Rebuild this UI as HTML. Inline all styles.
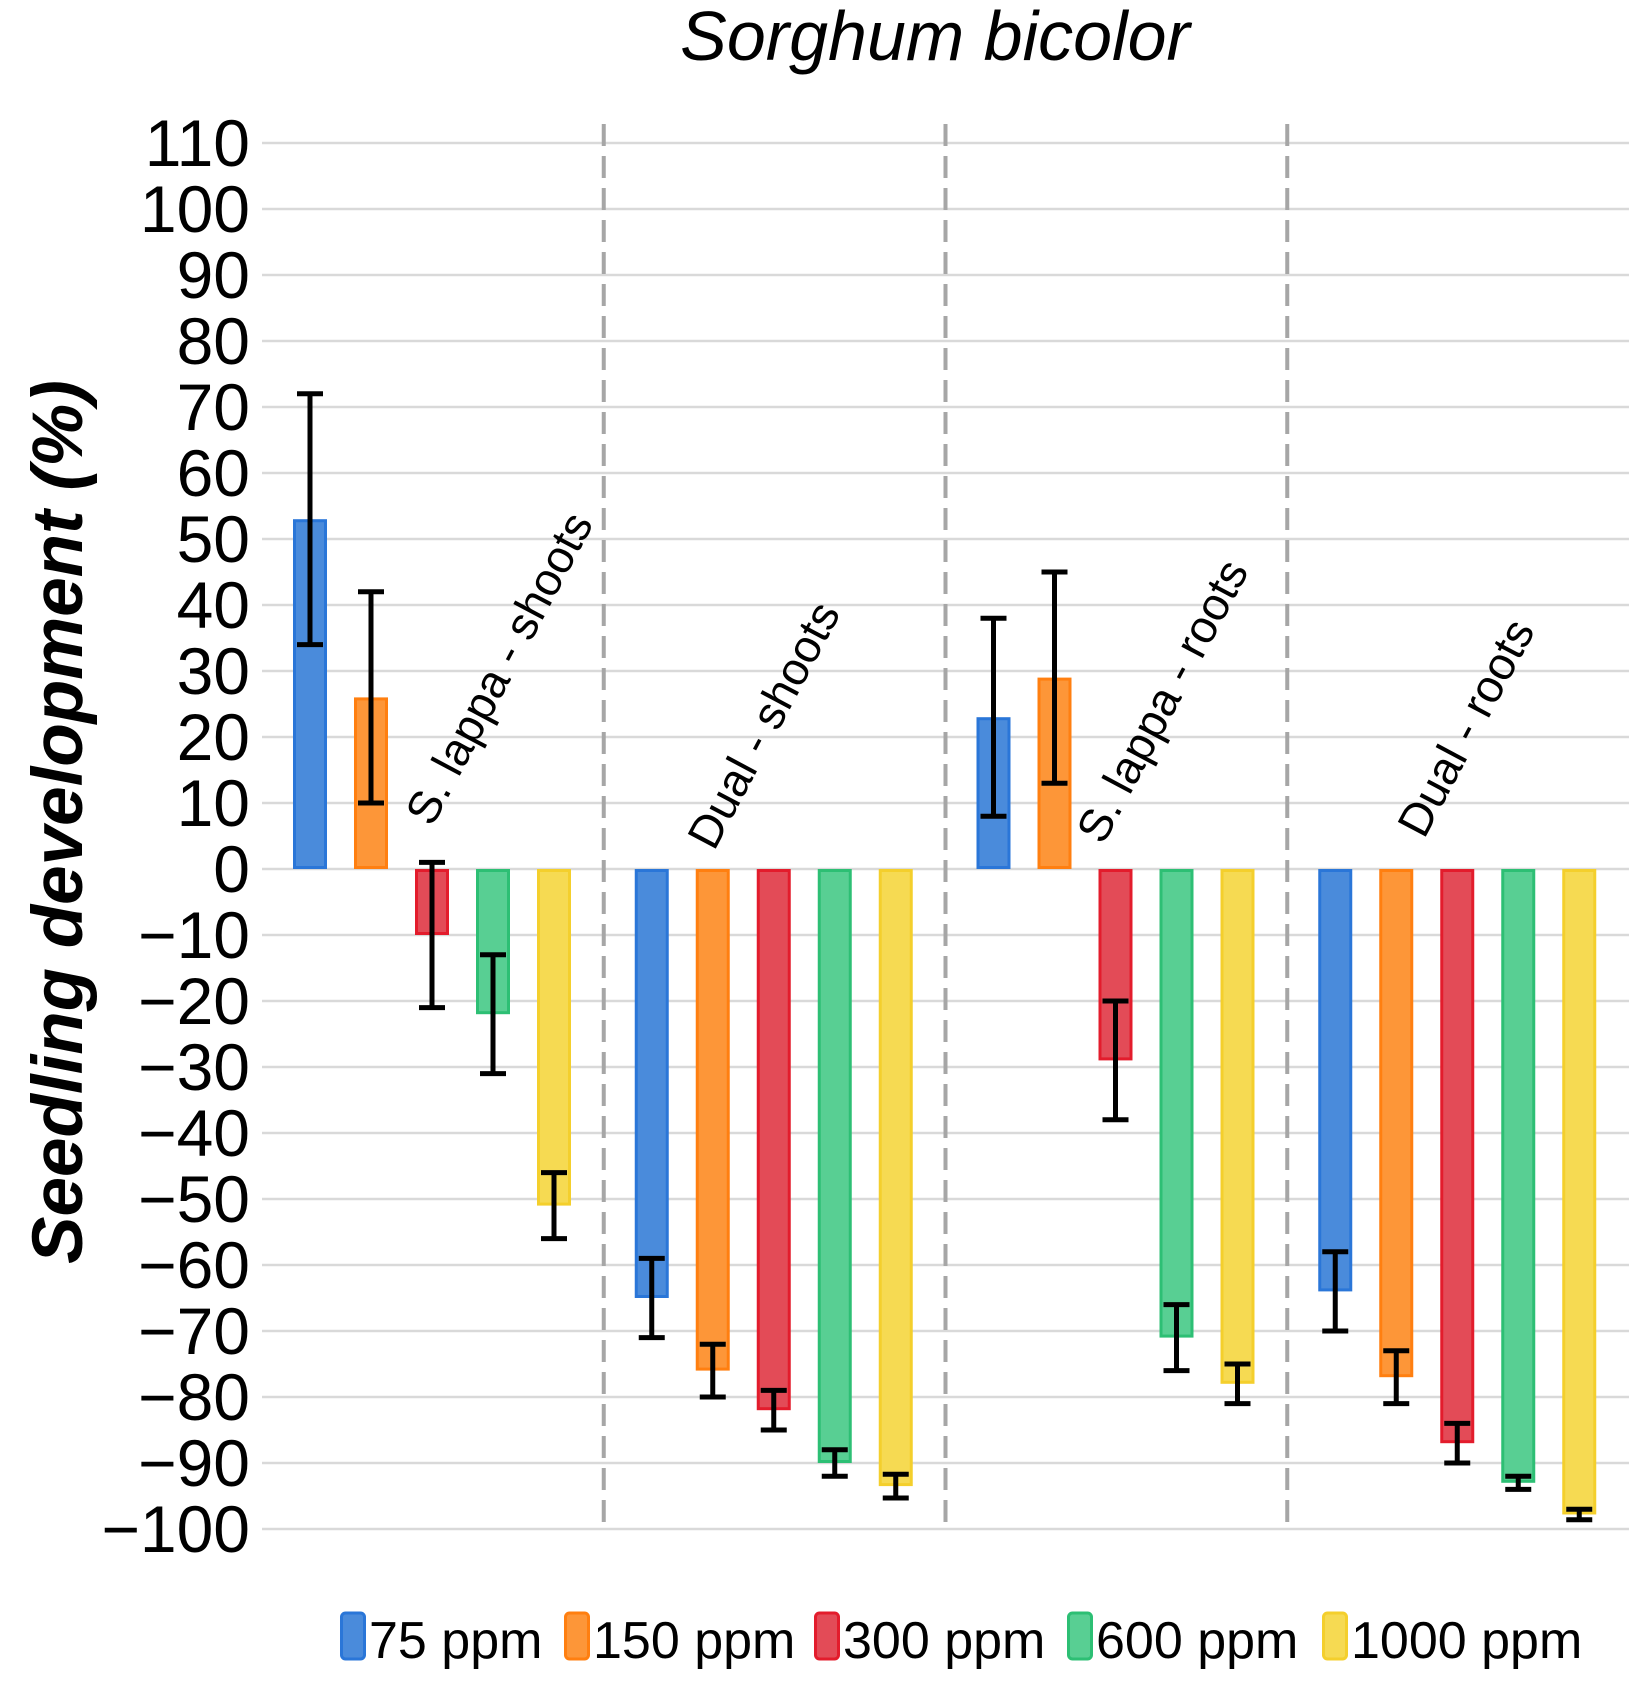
<!DOCTYPE html>
<html><head><meta charset="utf-8"><style>
html,body{margin:0;padding:0;background:#fff;}
svg{display:block;font-family:"Liberation Sans",Arial,sans-serif;}
</style></head><body>
<svg id="chart" width="1645" height="1686" viewBox="0 0 1645 1686">
<text x="935" y="60" font-size="70" font-style="italic" text-anchor="middle">Sorghum bicolor</text>
<text transform="translate(82,822) rotate(-90)" font-size="71" font-weight="bold" font-style="italic" text-anchor="middle">Seedling development (%)</text>
<g id="grid"></g><g id="yticks"></g><g id="dividers"></g><g id="bars"></g><g id="errs"></g><g id="glabels"></g><g id="legend"></g>
</svg>
<script>
const groups = ["S. lappa - shoots","Dual - shoots","S. lappa - roots","Dual - roots"];
const seriesNames = ["75 ppm","150 ppm","300 ppm","600 ppm","1000 ppm"];
const ppm75   = [53, -65, 23, -64];
const ppm150  = [26, -76, 29, -77];
const ppm300  = [-10, -82, -29, -87];
const ppm600  = [-22, -90, -71, -93];
const ppm1000 = [-51, -93.5, -78, -97.8];
const err75   = [19, 6, 15, 6];
const err150  = [16, 4, 16, 4];
const err300  = [11, 3, 9, 3];
const err600  = [9, 2, 5, 1];
const err1000 = [5, 1.8, 3, 0.8];
const yTicks = [110,100,90,80,70,60,50,40,30,20,10,0,-10,-20,-30,-40,-50,-60,-70,-80,-90,-100];

const series=[ppm75,ppm150,ppm300,ppm600,ppm1000];
const errs=[err75,err150,err300,err600,err1000];
const fills=["#4a8bdb","#fd9638","#e34b57","#58cf93","#f6da52"];
const strokes=["#2a76d8","#ff7f10","#e31c2c","#2dbf74","#f4cf2c"];
const NS="http://www.w3.org/2000/svg";
const X0=262,X1=1629,GW=(X1-X0)/4;
function y(v){return 869-v*6.6;}
function bx(g,i){return X0+g*GW+48+i*61;}
function mk(tag,attrs,parent){const e=document.createElementNS(NS,tag);for(const k in attrs)e.setAttribute(k,attrs[k]);document.getElementById(parent).appendChild(e);return e;}
yTicks.forEach(t=>{
  const l=mk('line',{x1:X0,x2:X1,y1:y(t),y2:y(t),stroke:'#d9d9d9','stroke-width':2.5},'grid');
  
  
  const tx=mk('text',{x:250,y:y(t)+23,'font-size':66,'text-anchor':'end'},'yticks');
  tx.textContent=(t<0?'\u2212'+(-t):t);
  
  
});
[1,2,3].forEach(k=>{
  const d=mk('line',{x1:X0+k*GW,x2:X0+k*GW,y1:124,y2:1528,stroke:'#a6a6a6','stroke-width':4,'stroke-dasharray':'22,10'},'dividers');
  
  
});
const lxs=[432,714,1103,1424], lys=[828,852,846,840];
groups.forEach((gname,g)=>{
  series.forEach((s,i)=>{
    const v=s[g],cx=bx(g,i),w=34;
    const r=mk('rect',{x:cx-w/2+1.5,y:Math.min(y(0),y(v))+1.5,width:w-3,height:Math.abs(y(v)-y(0))-3,fill:fills[i],stroke:strokes[i],'stroke-width':3},'bars');
    
    
    const e=errs[i][g],yt=y(v+e),yb=y(v-e);
    const eg=mk('g',{stroke:'#000','stroke-width':5},'errs');
    
    
    [[cx,yt,cx,yb],[cx-13,yt,cx+13,yt],[cx-13,yb,cx+13,yb]].forEach(p=>{const l=document.createElementNS(NS,'line');l.setAttribute('x1',p[0]);l.setAttribute('y1',p[1]);l.setAttribute('x2',p[2]);l.setAttribute('y2',p[3]);eg.appendChild(l);});
  });
  const t=mk('text',{transform:'translate('+lxs[g]+','+lys[g]+') rotate(-62)','font-size':46},'glabels');
  t.textContent=gname;
  
  
});
const lgx=[340,564,814,1067,1322];
seriesNames.forEach((n,i)=>{
  const r=mk('rect',{x:lgx[i]+1.5,y:1613,width:23,height:46,rx:4,fill:fills[i],stroke:strokes[i],'stroke-width':3},'legend');
  
  
  const t=mk('text',{x:lgx[i]+29,y:1658,'font-size':52},'legend');
  t.textContent=n;
  
  
});
</script>
</body></html>
